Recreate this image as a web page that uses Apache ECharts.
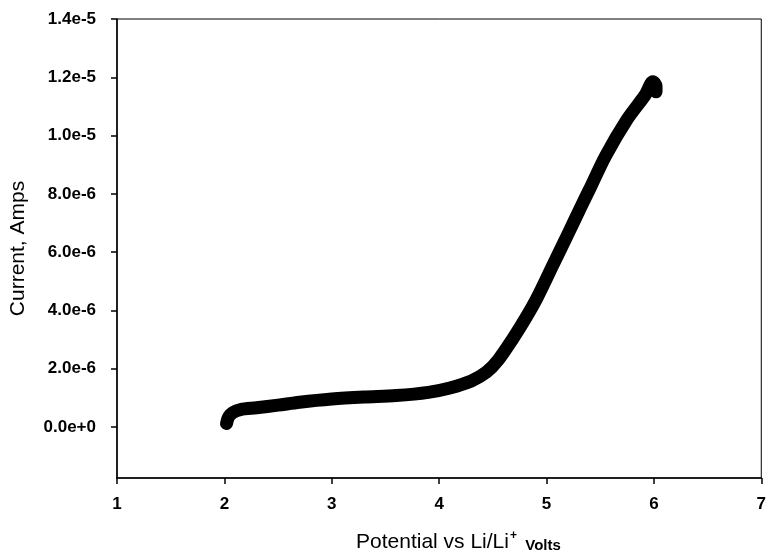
<!DOCTYPE html>
<html>
<head>
<meta charset="utf-8">
<script src="https://cdn.jsdelivr.net/npm/echarts@6/dist/echarts.min.js"></script>
<style>
  html, body { margin: 0; padding: 0; background: #fff; }
  #chart1 { width: 769px; height: 552px; }
</style>
</head>
<body>
<div id="chart1"></div>
<script>
// Potential vs Li/Li+ (volts)
const potential = [2.02, 2.04, 2.08, 2.15, 2.3, 2.5, 2.7, 3.0, 3.3, 3.6, 3.9, 4.1, 4.3, 4.44, 4.55, 4.69, 4.8, 4.91, 5.06, 5.21, 5.32, 5.4, 5.55, 5.75, 5.92, 5.99, 6.02, 6.02];
// Current, in microamps
const currentMicroAmps = [0.12, 0.35, 0.5, 0.6, 0.66, 0.75, 0.85, 0.96, 1.03, 1.08, 1.19, 1.34, 1.58, 1.88, 2.3, 3.05, 3.7, 4.42, 5.56, 6.7, 7.55, 8.15, 9.3, 10.55, 11.4, 11.85, 11.7, 11.5];
// y tick labels
const yTicks = [0, 2e-6, 4e-6, 6e-6, 8e-6, 1e-5, 1.2e-5, 1.4e-5];

const datos = potential.map((v, i) => [v, currentMicroAmps[i] * 1e-6]);

const chart1 = echarts.init(document.getElementById("chart1"));

const tickFont = { color: '#000', fontFamily: 'Liberation Sans, Arial', fontWeight: 'bold', fontSize: 17 };

chart1.setOption({
    animation: false,
    title: {
        text: '{a|Potential vs Li/Li}{sup|+}{b|  Volts}',
        left: 356,
        top: 530,
        padding: 0,
        textStyle: {
            rich: {
                a: { fontFamily: 'Liberation Sans, Arial', fontSize: 21, fontWeight: 'normal', color: '#000', verticalAlign: 'bottom' },
                sup: { fontFamily: 'Liberation Sans, Arial', fontSize: 12, fontWeight: 'bold', color: '#000', verticalAlign: 'top', padding: [0, 0, 11, 1] },
                b: { fontFamily: 'Liberation Sans, Arial', fontSize: 15, fontWeight: 'bold', color: '#000', verticalAlign: 'bottom' }
            }
        }
    },
    grid: {
        left: 117,
        right: 3,
        top: 19,
        bottom: 74,
        show: true,
        borderColor: '#000',
        borderWidth: 1
    },
    xAxis: {
        type: 'value',
        min: 1,
        max: 7,
        interval: 1,
        axisLine: { onZero: false, lineStyle: { color: '#000', width: 1.5 } },
        axisTick: { inside: false, length: 6, lineStyle: { color: '#000', width: 1.5 } },
        axisLabel: Object.assign({ margin: 18, showMaxLabel: true }, tickFont),
        splitLine: { show: false }
    },
    yAxis: {
        type: 'value',
        min: -1.75e-6,
        max: 1.4e-5,
        name: 'Current, Amps',
        nameLocation: 'middle',
        nameGap: 88,
        nameRotate: 90,
        nameTextStyle: { color: '#000', fontFamily: 'Liberation Sans, Arial', fontSize: 21 },
        axisLine: { onZero: false, lineStyle: { color: '#000', width: 1.5 } },
        axisTick: { inside: false, length: 6, customValues: yTicks, lineStyle: { color: '#000', width: 1.5 } },
        axisLabel: Object.assign({
            margin: 21,
            customValues: yTicks,
            formatter: v => v.toExponential(1)
        }, tickFont),
        splitLine: { show: false }
    },
    series: [
        {
            type: 'line',
            data: datos,
            showSymbol: false,
            smooth: 0.3,
            lineStyle: { color: '#000', width: 13, cap: 'round', join: 'round' }
        }
    ]
});
</script>
</body>
</html>
